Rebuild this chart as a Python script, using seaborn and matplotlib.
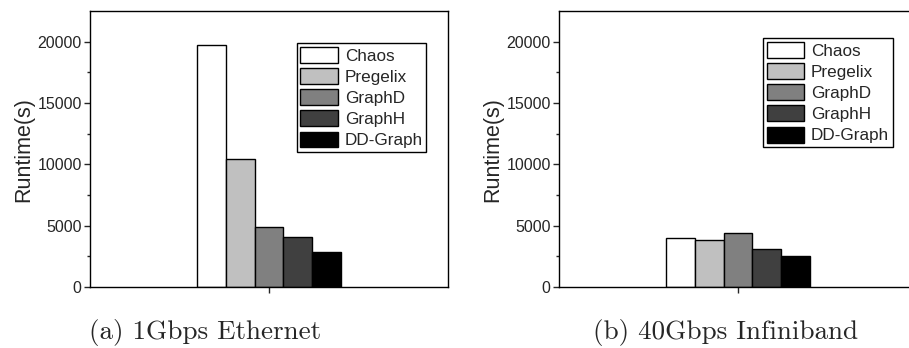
import pandas as pd
import numpy as np
import matplotlib
matplotlib.use("Agg")
import matplotlib.pyplot as plt
from matplotlib.ticker import MultipleLocator
import seaborn as sns

# DATA
systems = ["Chaos", "Pregelix", "GraphD", "GraphH", "DD-Graph"]
ethernet_runtime = [19700, 10420, 4925, 4055, 2885]
infiniband_runtime = [4000, 3840, 4380, 3075, 2530]
captions = ["(a) 1Gbps Ethernet", "(b) 40Gbps Infiniband"]
bar_colors = ["#ffffff", "#c0c0c0", "#808080", "#404040", "#000000"]

sns.set_style("ticks")
plt.rcParams["font.family"] = ["Liberation Sans", "DejaVu Sans"]

fig = plt.figure(figsize=(9.09, 3.48), dpi=100)
ax_left = fig.add_axes([0.099, 0.175, 0.394, 0.792])
ax_right = fig.add_axes([0.615, 0.175, 0.394, 0.792])

# axes, values, caption, legend anchor, caption x (axes fraction)
panels = [
    (ax_left, ethernet_runtime, captions[0], (0.578, 0.884), 0.32),
    (ax_right, infiniband_runtime, captions[1], (0.570, 0.902), 0.465),
]

for ax, runtime, caption, leg_pos, cap_x in panels:
    df = pd.DataFrame({
        "group": ["all"] * len(systems),
        "system": systems,
        "runtime": runtime,
    })
    sns.barplot(
        data=df, x="group", y="runtime", hue="system",
        hue_order=systems, palette=bar_colors, width=0.8,
        edgecolor="black", linewidth=1.0, ax=ax,
    )
    ax.set_xlim(-1, 1)
    ax.set_ylim(0, 22450)
    ax.yaxis.set_major_locator(MultipleLocator(5000))
    ax.yaxis.set_minor_locator(MultipleLocator(2500))
    ax.set_xticks([0])
    ax.set_xticklabels([""])
    ax.set_xlabel("")
    ax.set_ylabel("Runtime(s)", fontsize=15.5, labelpad=2)
    ax.tick_params(axis="both", which="major", direction="out",
                   length=4, width=1, labelsize=11.5, pad=2)
    ax.tick_params(axis="y", which="minor", direction="out",
                   length=2.5, width=1)
    for side in ["left", "bottom", "right", "top"]:
        ax.spines[side].set_visible(True)
        ax.spines[side].set_color("black")
        ax.spines[side].set_linewidth(1.0)

    handles, labels = ax.get_legend_handles_labels()
    ax.legend(
        handles, labels, loc="upper left", bbox_to_anchor=leg_pos,
        fontsize=12.3, frameon=True, fancybox=False, edgecolor="black",
        framealpha=1, borderpad=0.2, labelspacing=0.26,
        handlelength=2.2, handleheight=1.05, handletextpad=0.4,
        borderaxespad=0,
    ).get_frame().set_linewidth(1.0)

    ax.text(cap_x, -0.165, caption, transform=ax.transAxes, ha="center",
            va="center", fontsize=19.5, family="cmr10")

fig.savefig("out.png", dpi=100)
